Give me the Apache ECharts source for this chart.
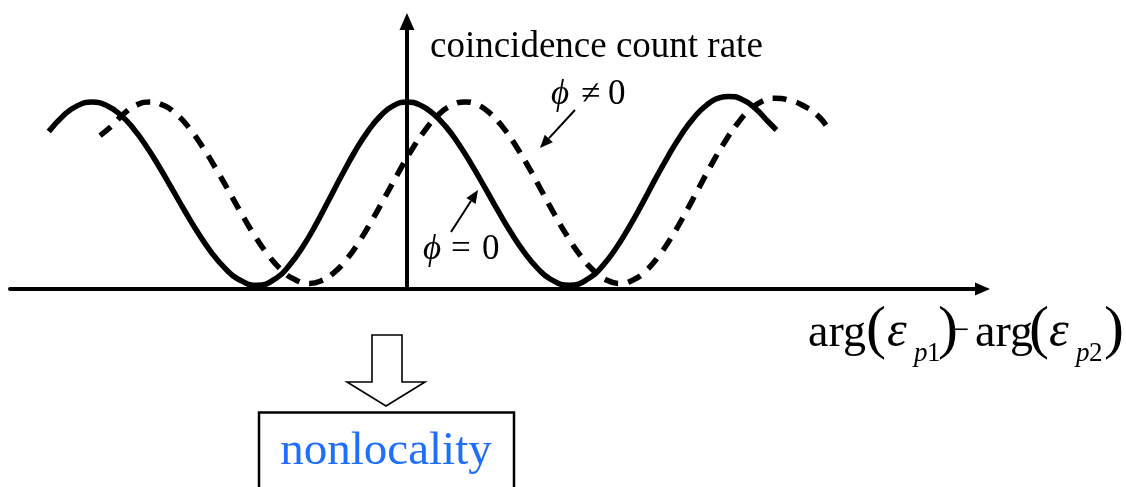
<!DOCTYPE html>
<html>
<head>
<meta charset="utf-8">
<script src="https://cdn.jsdelivr.net/npm/echarts@6/dist/echarts.min.js"></script>
<style>
  html, body { margin: 0; padding: 0; background: #fff; }
  #chart { width: 1126px; height: 487px; }
</style>
</head>
<body>
<div id="chart"></div>
<script>
// Relative phase arg(ε_p1) − arg(ε_p2), in degrees, and the normalised coincidence rate.
const phaseSolid = [-412, -395, -380, -362, -345, -330, -315, -300, -285, -270, -255, -240, -225, -210, -195,
                    -172, -150, -135, -120, -105, -90, -75, -60, -45, -30, -15, 0, 15, 30, 45,
                    60, 75, 90, 105, 120, 135, 150, 165, 187, 210, 225, 240, 255, 270, 285,
                    300, 315, 330, 345, 360, 370, 385, 400, 415, 425];
const rateSolid  = [0.842, 0.928, 0.978, 1.000, 0.980, 0.933, 0.860, 0.765, 0.654, 0.534, 0.413, 0.298, 0.196, 0.114, 0.055,
                    0.020, 0.059, 0.128, 0.225, 0.343, 0.475, 0.608, 0.734, 0.843, 0.928, 0.982, 1.000, 0.984, 0.938, 0.867,
                    0.771, 0.660, 0.539, 0.416, 0.299, 0.196, 0.112, 0.053, 0.020, 0.059, 0.124, 0.215, 0.327, 0.451, 0.582,
                    0.707, 0.821, 0.916, 0.985, 1.023, 1.030, 1.015, 0.969, 0.897, 0.850];

const phaseDashed = [-353, -340, -325, -310, -296, -280, -265, -250, -235, -220, -205, -190, -175, -160, -145,
                     -130, -112, -100, -85, -70, -55, -40, -25, -10, 5, 20, 35, 50, 67, 80,
                     95, 110, 125, 140, 155, 170, 185, 200, 215, 230, 245, 260, 275, 290, 305,
                     320, 335, 350, 365, 380, 395, 410, 423, 440, 458, 472, 483];
const rateDashed  = [0.820, 0.870, 0.940, 0.986, 1.000, 0.982, 0.934, 0.858, 0.759, 0.646, 0.524, 0.400, 0.284, 0.184, 0.105,
                     0.053, 0.030, 0.041, 0.083, 0.156, 0.253, 0.369, 0.494, 0.621, 0.741, 0.844, 0.926, 0.979, 1.000, 0.987,
                     0.942, 0.867, 0.767, 0.651, 0.524, 0.397, 0.278, 0.176, 0.097, 0.047, 0.030, 0.048, 0.098, 0.179, 0.283,
                     0.404, 0.534, 0.664, 0.782, 0.884, 0.961, 1.007, 1.020, 1.010, 0.975, 0.930, 0.870];

const yTitle = 'coincidence count rate';
const phiSymbol = 'ϕ';
const labelShifted = ['≠', '0'];
const labelZero = ['=', '0'];
const conclusion = 'nonlocality';

const SERIF = "'Liberation Serif', 'Times New Roman', serif";

function zip(xs, ys) { return xs.map((x, i) => [x, ys[i]]); }

// Text placed by its left edge (or centre) and alphabetic baseline.
function txt(str, x, baseline, size, opt) {
  opt = opt || {};
  return {
    type: 'text', silent: true, z: 10,
    x: x, y: baseline - 0.34 * size,
    style: {
      text: str,
      font: (opt.italic ? 'italic ' : '') + size + 'px ' + SERIF,
      fill: opt.color || '#000',
      textAlign: opt.align || 'left', align: opt.align || 'left',
      textVerticalAlign: 'middle', verticalAlign: 'middle'
    }
  };
}

// Thin pointer arrow with a filled head at (x2, y2).
function pointer(x1, y1, x2, y2) {
  const len = 13, half = 5.5;
  const dx = x2 - x1, dy = y2 - y1, d = Math.hypot(dx, dy);
  const ux = dx / d, uy = dy / d;
  const bx = x2 - ux * len, by = y2 - uy * len;
  return [
    { type: 'line', silent: true, z: 10, shape: { x1: x1, y1: y1, x2: bx, y2: by },
      style: { stroke: '#000', lineWidth: 2 } },
    { type: 'polygon', silent: true, z: 10,
      shape: { points: [[x2, y2], [bx - uy * half, by + ux * half], [bx + uy * half, by - ux * half]] },
      style: { fill: '#000' } }
  ];
}

const graphics = [].concat(
  [txt(yTitle, 430, 60, 37)],
  // ϕ ≠ 0
  [txt(phiSymbol, 551, 107, 35, { italic: true }), txt(labelShifted[0], 581, 107, 35), txt(labelShifted[1], 608, 107, 35)],
  pointer(575, 110, 540, 148),
  // ϕ = 0
  [txt(phiSymbol, 423, 262, 35, { italic: true }), txt(labelZero[0], 451, 262, 35), txt(labelZero[1], 482, 262, 35)],
  pointer(451, 232, 478, 190),
  // arg(ε_p1) − arg(ε_p2)
  [
    txt('arg', 808, 350, 46),
    txt('(', 866, 352, 60),
    txt('ε', 887, 350, 50, { italic: true }),
    txt('p', 914, 363, 27, { italic: true }), txt('1', 927, 363, 27),
    txt(')', 938, 352, 60),
    txt('−', 951, 342, 32),
    txt('arg', 975, 350, 46),
    txt('(', 1029, 352, 60),
    txt('ε', 1049, 350, 50, { italic: true }),
    txt('p', 1076, 363, 27, { italic: true }), txt('2', 1089, 363, 27),
    txt(')', 1104, 352, 60)
  ],
  // hollow block arrow and the conclusion box
  [
    { type: 'polygon', silent: true, z: 10,
      shape: { points: [[372, 335], [402, 335], [402, 382], [425, 382], [386, 406], [347, 382], [372, 382]] },
      style: { fill: '#fff', stroke: '#000', lineWidth: 1.6 } },
    { type: 'rect', silent: true, z: 10,
      shape: { x: 259, y: 412.5, width: 255, height: 120 },
      style: { fill: 'none', stroke: '#000', lineWidth: 2.5 } },
    txt(conclusion, 386, 468, 47, { align: 'center', color: '#1e6eff' })
  ]
);

const chart = echarts.init(document.getElementById('chart'), null, { renderer: 'canvas' });
chart.setOption({
  animation: false,
  backgroundColor: '#fff',
  grid: { left: 10, right: 143.5, top: 21.5, bottom: 198 },
  xAxis: {
    type: 'value', min: -456.6, max: 662.0,
    axisLine: { show: true, onZero: true, symbol: ['none', 'triangle'], symbolSize: [13, 15],
                lineStyle: { color: '#000', width: 4 } },
    axisTick: { show: false }, axisLabel: { show: false }, splitLine: { show: false }
  },
  yAxis: {
    type: 'value', min: 0, max: 1.4305,
    axisLine: { show: true, onZero: true, symbol: ['none', 'triangle'], symbolSize: [15, 17],
                lineStyle: { color: '#000', width: 4 } },
    axisTick: { show: false }, axisLabel: { show: false }, splitLine: { show: false }
  },
  series: [
    { type: 'line', name: 'ϕ = 0', data: zip(phaseSolid, rateSolid), smooth: 0.5, showSymbol: false,
      silent: true, z: 3, lineStyle: { color: '#000', width: 5.5 } },
    { type: 'line', name: 'ϕ ≠ 0', data: zip(phaseDashed, rateDashed), smooth: 0.5, showSymbol: false,
      silent: true, z: 3, lineStyle: { color: '#000', width: 5.5, type: [14, 10] } }
  ],
  graphic: graphics
});
</script>
</body>
</html>
